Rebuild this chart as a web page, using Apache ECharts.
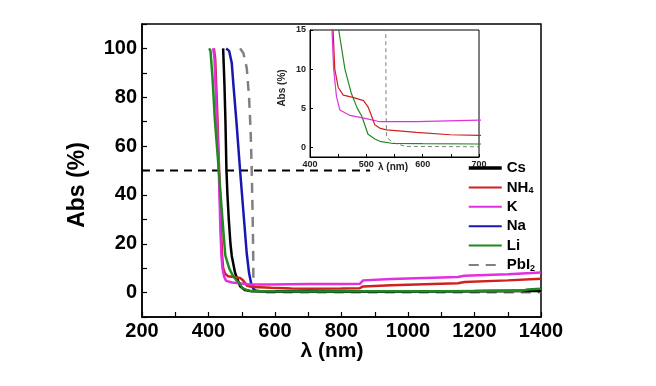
<!DOCTYPE html>
<html>
<head>
<meta charset="utf-8">
<script src="https://cdn.jsdelivr.net/npm/echarts@6/dist/echarts.min.js"></script>
<style>
  html, body { margin: 0; padding: 0; background: #fff; }
  #chart { width: 656px; height: 386px; }
</style>
</head>
<body>
<div id="chart"></div>
<script>
// absorbance curves, [wavelength nm, Abs %]
const csData = [[444,100],[448,85],[451,70],[454,50],[457,40],[461,30],[466,20],[470,15],[480,8],[495,2.6],[510,1.0],[530,0.5],[700,0.3],[1000,0.4],[1400,0.6]];
const nh4Data = [[416,100],[420,96],[426,75],[432,50],[438,25],[441,15],[444,10],[450,7.7],[459,6.7],[476,6.4],[495,6.0],[503,5.2],[510,3.9],[515,2.9],[525,2.45],[536,2.27],[589,1.93],[649,1.64],[700,1.55],[800,1.7],[855,1.8],[865,2.5],[950,3.0],[1150,3.8],[1170,4.3],[1300,5.0],[1400,5.7]];
const kData = [[414,100],[418,96],[424,75],[431,50],[436,25],[439,15],[442,10],[447,6.5],[453,4.8],[471,4.1],[500,3.7],[524,3.3],[589,3.3],[700,3.5],[800,3.5],[855,3.6],[865,5.0],[950,5.6],[1150,6.4],[1170,6.9],[1300,7.5],[1400,8.2]];
const naData = [[453,100],[462,99],[470,94],[475,85],[484,70],[495,50],[505,33],[515,16],[522,8],[530,2.6],[540,0.8],[560,0.5],[900,0.5],[1200,0.6],[1400,0.9]];
const liData = [[402,100],[406,99],[412,88],[419,71],[431,50],[442,30],[450,16],[451,15],[462,10],[473,7],[484,5],[492,4],[503,1.7],[515,1.1],[524,0.8],[545,0.55],[600,0.5],[700,0.46],[900,0.5],[1100,0.55],[1340,0.7],[1360,1.3],[1400,1.6]];
const pbi2Data = [[495,100],[505,98],[515,92],[522,80],[527,65],[530,50],[533,30],[534.5,15],[535,5],[536,1.3],[548,0.6],[570,0.15],[700,0.1],[1400,0.1]];
const halfLevel = [[200,50],[886,50]];

// tick labels
const mainXLabels = [200, 400, 600, 800, 1000, 1200, 1400];
const mainYLabels = [0, 20, 40, 60, 80, 100];
const insetXLabels = [400, 500, 600, 700];
const insetYLabels = [0, 5, 10, 15];

const legendNames = ['Cs', 'NH4', 'K', 'Na', 'Li', 'PbI2'];
const colors = { Cs: '#000000', NH4: '#d02020', K: '#e030e0', Na: '#1818b0', Li: '#208a20', PbI2: '#808080' };

const font = "'Liberation Sans', Arial, sans-serif";
const chart = echarts.init(document.getElementById('chart'), null, { renderer: 'canvas' });

function mainLine(name, data, extra) {
    return Object.assign({
        name: name, type: 'line', xAxisIndex: 0, yAxisIndex: 0,
        data: data, symbol: 'none', silent: true,
        lineStyle: { color: colors[name], width: 2.5 },
        itemStyle: { color: colors[name] }
    }, extra || {});
}

// zoomed copy of the same curves for the inset
function insetLine(name, data, extra) {
    return Object.assign({
        name: name, type: 'line', xAxisIndex: 1, yAxisIndex: 1,
        data: data, symbol: 'none', silent: true, clip: true, z: 4,
        lineStyle: { color: colors[name], width: 1.2 },
        itemStyle: { color: colors[name] }
    }, extra || {});
}

const boldAxisLabel = { color: '#000', fontWeight: 'bold', fontSize: 20, fontFamily: font };
const smallAxisLabel = { color: '#222', fontWeight: 'bold', fontSize: 9, fontFamily: font };

chart.setOption({
    animation: false,
    backgroundColor: '#fff',
    grid: [
        { left: 142, top: 24, width: 399, height: 293, show: true, borderColor: '#000', borderWidth: 1.5 },
        { left: 310, top: 30, width: 169, height: 127, show: true, borderColor: '#000', borderWidth: 1, backgroundColor: '#fff' }
    ],
    xAxis: [
        {
            gridIndex: 0, type: 'value', min: 200, max: 1400, interval: 100,
            axisLine: { onZero: false, lineStyle: { color: '#000', width: 1.5 } },
            axisTick: { inside: true, length: 5, lineStyle: { color: '#000', width: 1.2 } },
            axisLabel: Object.assign({ margin: 4, formatter: v => mainXLabels.includes(v) ? String(v) : '' }, boldAxisLabel),
            splitLine: { show: false }
        },
        {
            gridIndex: 1, type: 'value', min: 400, max: 700, interval: 50,
            axisLine: { onZero: false, lineStyle: { color: '#000', width: 1 } },
            axisTick: { inside: true, length: 3, lineStyle: { color: '#000', width: 1 } },
            axisLabel: Object.assign({ margin: 3, formatter: v => insetXLabels.includes(v) ? String(v) : '' }, smallAxisLabel),
            splitLine: { show: false }
        }
    ],
    yAxis: [
        {
            gridIndex: 0, type: 'value', min: -10, max: 110, interval: 10,
            axisLine: { onZero: false, lineStyle: { color: '#000', width: 1.5 } },
            axisTick: { inside: true, length: 5, lineStyle: { color: '#000', width: 1.2 } },
            axisLabel: Object.assign({ margin: 5, formatter: v => mainYLabels.includes(v) ? String(v) : '' }, boldAxisLabel),
            splitLine: { show: false }
        },
        {
            gridIndex: 1, type: 'value', min: -1.2, max: 15,
            axisLine: { onZero: false, lineStyle: { color: '#000', width: 1 } },
            axisTick: { inside: true, length: 3, customValues: insetYLabels, lineStyle: { color: '#000', width: 1 } },
            axisLabel: Object.assign({ margin: 4, customValues: insetYLabels }, smallAxisLabel),
            splitLine: { show: false }
        }
    ],
    legend: {
        data: legendNames.map(n => n === 'Cs' ? { name: n, lineStyle: { width: 3.5 } } : n),
        orient: 'vertical', left: 467, top: 160, padding: 0,
        itemWidth: 33, itemHeight: 14, itemGap: 3.4,
        itemStyle: { opacity: 0 },
        selectedMode: false,
        formatter: name => name === 'NH4' ? '{b|NH}{s|4}' : name === 'PbI2' ? '{b|PbI}{s|2}' : '{b|' + name + '}',
        textStyle: {
            lineHeight: 16,
            rich: {
                b: { fontSize: 15, fontWeight: 'bold', color: '#000', fontFamily: font },
                s: { fontSize: 9, fontWeight: 'bold', color: '#000', fontFamily: font, verticalAlign: 'bottom' }
            }
        }
    },
    graphic: [
        { type: 'text', x: 78, y: 185, rotation: Math.PI / 2,
          style: { text: 'Abs (%)', fill: '#000', font: "bold 23px 'Liberation Sans', Arial, sans-serif", textAlign: 'center', textVerticalAlign: 'middle' } },
        { type: 'text', x: 332, y: 351,
          style: { text: 'λ (nm)', fill: '#000', font: "bold 21px 'Liberation Sans', Arial, sans-serif", textAlign: 'center', textVerticalAlign: 'middle' } },
        { type: 'text', x: 282, y: 88, rotation: Math.PI / 2, z: 10,
          style: { text: 'Abs (%)', fill: '#222', font: "bold 10px 'Liberation Sans', Arial, sans-serif", textAlign: 'center', textVerticalAlign: 'middle' } },
        { type: 'text', x: 393, y: 167, z: 10,
          style: { text: 'λ (nm)', fill: '#222', font: "bold 10px 'Liberation Sans', Arial, sans-serif", textAlign: 'center', textVerticalAlign: 'middle' } }
    ],
    series: [
        {
            type: 'line', xAxisIndex: 0, yAxisIndex: 0, data: halfLevel, symbol: 'none', silent: true,
            lineStyle: { color: '#000', width: 2, type: [8, 6] }
        },
        mainLine('PbI2', pbi2Data, { lineStyle: { color: colors.PbI2, width: 2.5, type: [10, 7] } }),
        mainLine('Na', naData),
        mainLine('Cs', csData),
        mainLine('NH4', nh4Data),
        mainLine('K', kData),
        mainLine('Li', liData),
        insetLine('PbI2', pbi2Data, { lineStyle: { color: colors.PbI2, width: 1, type: [4, 3] } }),
        insetLine('Li', liData),
        insetLine('K', kData),
        insetLine('NH4', nh4Data)
    ]
});
</script>
</body>
</html>
